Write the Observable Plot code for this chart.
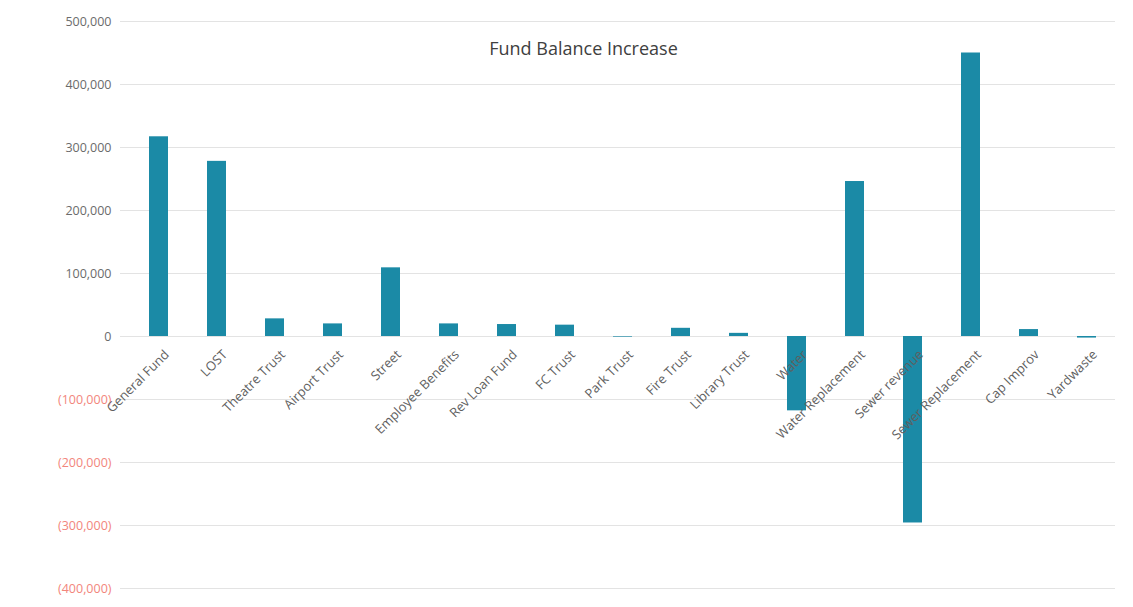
<!DOCTYPE html>
<html>
<head>
<meta charset="utf-8">
<script src="https://cdn.jsdelivr.net/npm/d3@7"></script>
<script src="https://cdn.jsdelivr.net/npm/@observablehq/plot@0.6"></script>
<style>
  html, body { margin: 0; padding: 0; background: #fff; }
  #chart { width: 1133px; height: 607px; }
</style>
</head>
<body>
<div id="chart"></div>
<script>
const funds = ["General Fund", "LOST", "Theatre Trust", "Airport Trust", "Street", "Employee Benefits",
  "Rev Loan Fund", "FC Trust", "Park Trust", "Fire Trust", "Library Trust", "Water",
  "Water Replacement", "Sewer revenue", "Sewer Replacement", "Cap Improv", "Yardwaste"];
const increase = [317000, 278000, 28000, 20000, 109000, 20000,
  19000, 18000, -1000, 13000, 5000, -118000,
  246000, -296000, 450000, 11000, -2500];
const yTicks = [500000, 400000, 300000, 200000, 100000, 0, -100000, -200000, -300000, -400000];
const title = "Fund Balance Increase";

const data = funds.map((f, i) => ({fund: f, value: increase[i]}));
const fmt = d3.format(",");
const tickFmt = d => d < 0 ? `(${fmt(-d)})` : fmt(d);
const font = "'Open Sans', 'Noto Sans', sans-serif";

const chart = Plot.plot({
  width: 1133,
  height: 607,
  marginTop: 21,
  marginBottom: 19,
  marginLeft: 129,
  marginRight: 18,
  style: {fontFamily: font, background: "#fff"},
  x: {domain: funds, paddingInner: 0.68, paddingOuter: 0.34, axis: null},
  y: {domain: [-400000, 500000], axis: null},
  marks: [
    Plot.ruleY(yTicks, {stroke: "#e3e3e3", strokeWidth: 1, insetLeft: -9}),
    Plot.barY(data, {x: "fund", y: "value", fill: "#1b8aa6"}),
    Plot.axisY(yTicks.filter(d => d >= 0), {tickSize: 0, tickPadding: 18, tickFormat: tickFmt, label: null,
      fill: "#6b6b6b", fontSize: 12.5, fontFamily: font}),
    Plot.axisY(yTicks.filter(d => d < 0), {tickSize: 0, tickPadding: 18, tickFormat: tickFmt, label: null,
      fill: "#f2867c", fontSize: 12.5, fontFamily: font}),
    Plot.text(data, {x: "fund", y: () => 0, text: "fund", rotate: -45, textAnchor: "end",
      dx: 8, dy: 16, fill: "#5f5f5f", fontSize: 13, fontFamily: font}),
    Plot.text([title], {frameAnchor: "top", dx: -39, dy: 21, fill: "#404040", fontSize: 18, fontFamily: font})
  ]
});
document.getElementById("chart").appendChild(chart);
</script>
</body>
</html>
